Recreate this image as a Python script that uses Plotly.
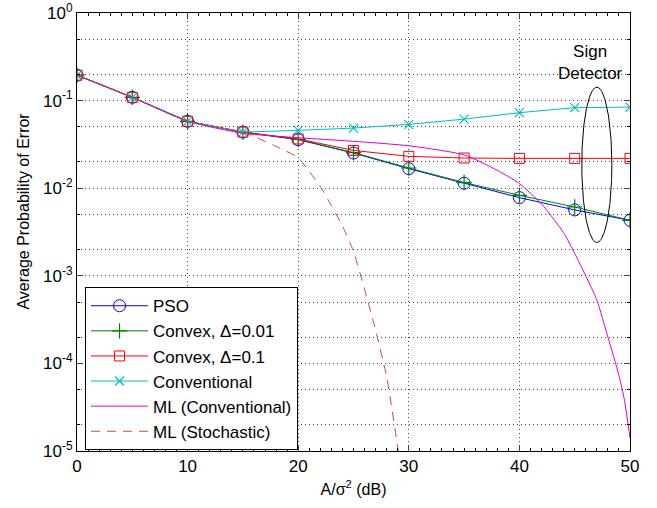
import plotly.graph_objects as go
import numpy as np

snr = [0, 5, 10, 15, 20, 25, 30, 35, 40, 45, 50]
pso = [0.195, 0.109, 0.058, 0.0437, 0.0358, 0.0252, 0.0167, 0.0114, 0.0078, 0.00565, 0.0043]
convex_001 = [0.195, 0.109, 0.058, 0.0437, 0.0360, 0.0255, 0.0170, 0.0116, 0.0083, 0.0061, 0.0043]
convex_01 = [0.195, 0.109, 0.058, 0.0437, 0.0365, 0.0270, 0.0231, 0.0221, 0.0219, 0.0219, 0.0219]
conventional = [0.195, 0.109, 0.058, 0.0437, 0.0457, 0.0486, 0.0535, 0.0615, 0.0728, 0.083, 0.0843]

ml_conv_x = [0, 5, 10, 15, 20, 25, 30, 35, 38, 40, 42, 44, 45, 46, 47, 48, 49, 49.5, 50]
ml_conv_y = [0.195, 0.109, 0.058, 0.0425, 0.0377, 0.0343, 0.0305, 0.0240, 0.0160, 0.0113, 0.0066,
             0.0031, 0.0018, 0.00100, 5.3e-4, 2.0e-4, 7.3e-5, 3.8e-5, 1.4e-5]

ml_sto_x = [0, 5, 10, 15, 16, 18, 20, 21, 22, 23, 24, 25, 26, 27, 28, 29, 29.5]
ml_sto_y = [0.195, 0.109, 0.058, 0.0437, 0.039, 0.030, 0.0222, 0.0155, 0.0105, 0.0063, 0.0037,
            0.0019, 7.0e-4, 2.4e-4, 7.0e-5, 1.1e-5, 4e-6]

names = ["PSO", "Convex, \u0394=0.01", "Convex, \u0394=0.1", "Conventional",
         "ML (Conventional)", "ML (Stochastic)"]

y_tickvals = [1e-5, 1e-4, 1e-3, 1e-2, 1e-1, 1]
y_ticktext = ["10<sup>-5</sup>", "10<sup>-4</sup>", "10<sup>-3</sup>", "10<sup>-2</sup>",
              "10<sup>-1</sup>", "10<sup>0</sup>"]
x_tickvals = [0, 10, 20, 30, 40, 50]

FONT = "Liberation Sans, Arial, sans-serif"

fig = go.Figure()

fig.add_trace(go.Scatter(x=snr, y=pso, name=names[0], mode="lines+markers",
                         line=dict(color="#0000FF", width=1),
                         marker=dict(symbol="circle-open", size=12, color="#0000FF",
                                     line=dict(width=1))))
fig.add_trace(go.Scatter(x=snr, y=convex_001, name=names[1], mode="lines+markers",
                         line=dict(color="#008000", width=1),
                         marker=dict(symbol="cross-thin-open", size=11, color="#008000",
                                     line=dict(width=1.2, color="#008000"))))
fig.add_trace(go.Scatter(x=snr, y=convex_01, name=names[2], mode="lines+markers",
                         line=dict(color="#FF0000", width=1),
                         marker=dict(symbol="square-open", size=10, color="#FF0000",
                                     line=dict(width=1))))
fig.add_trace(go.Scatter(x=snr, y=conventional, name=names[3], mode="lines+markers",
                         line=dict(color="#00BFBF", width=1),
                         marker=dict(symbol="x-thin-open", size=9, color="#00BFBF",
                                     line=dict(width=1.2, color="#00BFBF"))))
fig.add_trace(go.Scatter(x=ml_conv_x, y=ml_conv_y, name=names[4], mode="lines",
                         line=dict(color="#DD00DD", width=1, shape="spline", smoothing=0.6)))
fig.add_trace(go.Scatter(x=ml_sto_x, y=ml_sto_y, name=names[5], mode="lines",
                         line=dict(color="#C0502A", width=1, dash="9px,7px",
                                   shape="spline", smoothing=0.6)))

# "Sign Detector" ellipse (annotation drawn in x / log10(y) space)
t = np.linspace(0, 2 * np.pi, 200)
ex_c, ex_r = 47.0, 1.36
ey_c, ey_r = -1.733, 0.887
fig.add_trace(go.Scatter(x=ex_c + ex_r * np.cos(t), y=10 ** (ey_c + ey_r * np.sin(t)),
                         mode="lines", line=dict(color="black", width=1),
                         showlegend=False, hoverinfo="skip"))

fig.add_annotation(x=46.4, y=-0.57, xref="x", yref="y", text="Sign<br>Detector",
                   showarrow=False, font=dict(size=17, color="black", family=FONT))

# y-axis title (placed slightly above the plot centre, as in the reference)
fig.add_annotation(x=-0.0976, xanchor="center", y=0.5 + (232 - 211.5) / 438.5,
                   xref="paper", yref="paper",
                   text="Average Probability of Error", textangle=-90,
                   showarrow=False, font=dict(size=16, color="black", family=FONT))

grid_common = dict(showgrid=True, gridcolor="#444444", griddash="1px,3px", gridwidth=1)

fig.update_xaxes(range=[0, 50], tickvals=x_tickvals, ticks="inside", ticklen=6,
                 showline=True, linecolor="black", linewidth=1, mirror="ticks",
                 zeroline=False, automargin=False, ticklabeloverflow="allow",
                 tickfont=dict(size=17, color="black", family=FONT),
                 title=dict(text="A/\u03c3<sup>2</sup> (dB)", font=dict(size=16, color="black", family=FONT),
                            standoff=8),
                 minor=dict(ticks="inside", ticklen=3, dtick=1, tickcolor="black", showgrid=False),
                 **grid_common)
fig.update_yaxes(type="log", range=[-5, 0], tickvals=y_tickvals, ticktext=y_ticktext,
                 ticks="inside", ticklen=6, showline=True, linecolor="black", linewidth=1,
                 mirror="ticks", automargin=False, ticklabeloverflow="allow",
                 tickfont=dict(size=17, color="black", family=FONT),
                 minor=dict(ticks="inside", ticklen=3, tickcolor="black", showgrid=True,
                            gridcolor="#444444", griddash="1px,3px", gridwidth=1),
                 **grid_common)

fig.update_layout(
    width=657, height=508,
    margin=dict(l=77, r=27, t=13, b=57, autoexpand=False),
    plot_bgcolor="white", paper_bgcolor="white",
    font=dict(family=FONT, size=16, color="black"),
    legend=dict(x=0.0145, y=0.374, xanchor="left", yanchor="top",
                bgcolor="white", bordercolor="black", borderwidth=1,
                font=dict(size=17, color="black", family=FONT),
                itemwidth=57, tracegroupgap=0),
    showlegend=True,
)

# remove the default 8px page margin so the figure fills the window exactly
fig.write_html("out.html", config={"displayModeBar": False},
               post_script="document.body.style.margin='0';document.body.style.overflow='hidden';")
